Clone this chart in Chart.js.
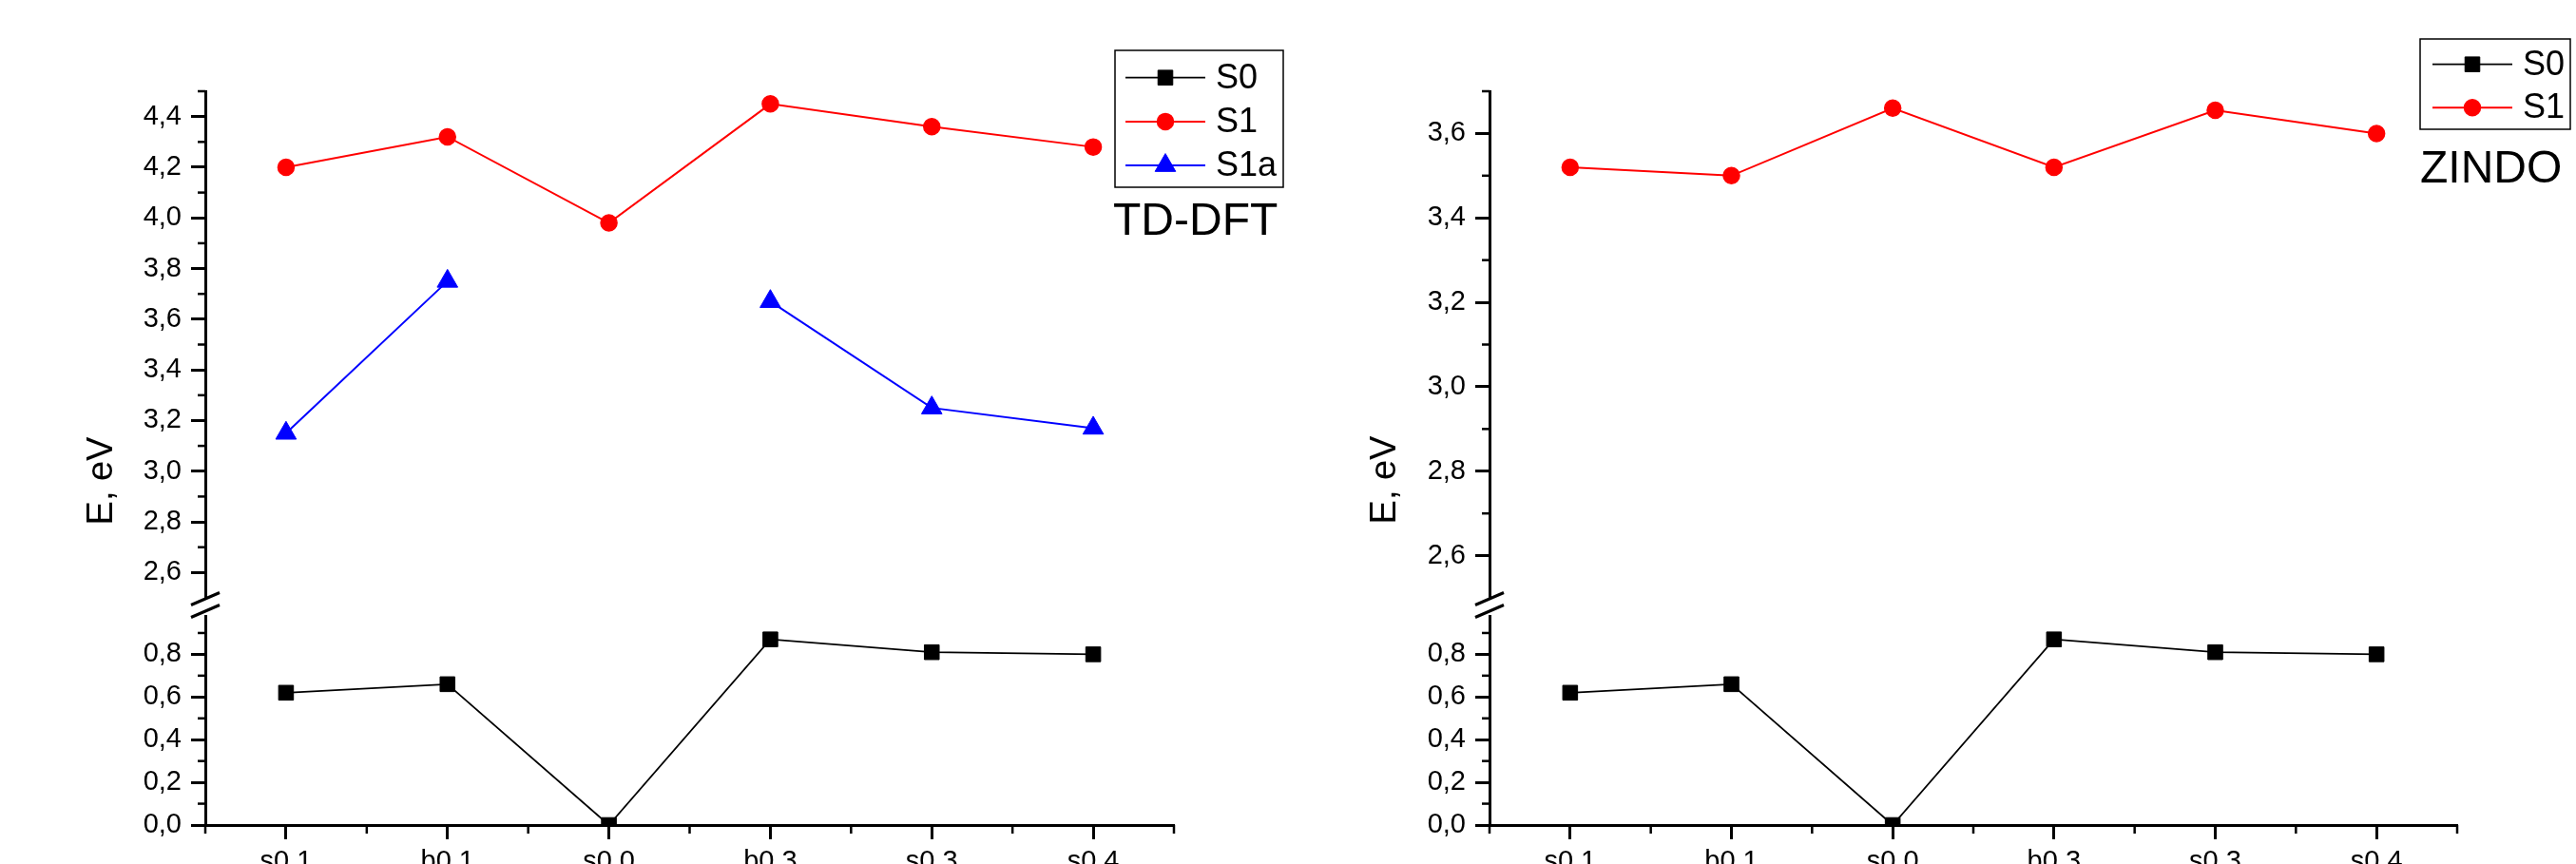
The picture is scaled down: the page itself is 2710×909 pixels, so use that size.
<!DOCTYPE html>
<html>
<head>
<meta charset="utf-8">
<title>TD-DFT / ZINDO</title>
<script src="https://cdn.jsdelivr.net/npm/chart.js@4.4.1/dist/chart.umd.min.js"></script>
<style>
  html, body { margin: 0; padding: 0; background: #fff; }
  #wrap { position: relative; width: 2710px; height: 909px; overflow: hidden; }
  canvas { position: absolute; top: 0; }
  #tddft { left: 0; }
  #zindo { left: 1355px; }
</style>
</head>
<body>
<div id="wrap">
  <canvas id="tddft" width="1355" height="909"></canvas>
  <canvas id="zindo" width="1355" height="909"></canvas>
</div>
<script>
const categories = ["s0.1", "b0.1", "s0.0", "b0.3", "s0.3", "s0.4"];

// TD-DFT panel
const tddftS0 = [0.62, 0.66, 0.0, 0.87, 0.81, 0.80];
const tddftS1 = [4.20, 4.32, 3.98, 4.45, 4.36, 4.28];
const tddftS1a = [3.15, 3.75, null, 3.67, 3.25, 3.17];

// ZINDO panel
const zindoS0 = [0.62, 0.66, 0.0, 0.87, 0.81, 0.80];
const zindoS1 = [3.52, 3.50, 3.66, 3.52, 3.655, 3.60];

const FONT = '"Liberation Sans", Arial, sans-serif';
const yTitle = "E, eV";

const fmtComma = (v) => Number(v).toFixed(1).replace(".", ",");

const s0Set = (data) => ({
  label: "S0", data: data, yAxisID: "yLow",
  borderColor: "#000", backgroundColor: "#000", borderWidth: 1.8,
  pointStyle: "rect", pointRadius: 11, pointBorderWidth: 1
});
const s1Set = (data) => ({
  label: "S1", data: data, yAxisID: "yHigh",
  borderColor: "#ff0000", backgroundColor: "#ff0000", borderWidth: 2,
  pointStyle: "circle", pointRadius: 8.5, pointBorderWidth: 1.5
});
const s1aSet = (data) => ({
  label: "S1a", data: data, yAxisID: "yHigh",
  borderColor: "#0000ff", backgroundColor: "#0000ff", borderWidth: 2,
  pointStyle: "triangle", pointRadius: 12.5, pointBorderWidth: 1
});

// major ticks every 0.2 inside the scale range
const majorTicks = (scale) => {
  const ticks = [];
  for (let k = Math.ceil(scale.min * 5 - 1e-6); k <= Math.floor(scale.max * 5 + 1e-6); k++) {
    ticks.push({ value: k / 5 });
  }
  scale.ticks = ticks;
};

// minor ticks, axis break, y title, boxed legend and method label
const originDecor = {
  id: "originDecor",
  afterDraw(chart, args, opts) {
    const ctx = chart.ctx;
    const x = chart.scales.x;
    const hi = chart.scales.yHigh;
    const lo = chart.scales.yLow;
    const axisX = hi.right;
    ctx.save();
    ctx.strokeStyle = "#000";
    ctx.fillStyle = "#000";

    // y minor ticks every 0.1
    ctx.lineWidth = 2.5;
    [hi, lo].forEach((s) => {
      for (let k = Math.ceil(s.min * 10 + 1e-6); k <= Math.floor(s.max * 10 + 1e-6); k++) {
        if (k % 2 === 0) continue;
        const py = s.getPixelForValue(k / 10);
        ctx.beginPath();
        ctx.moveTo(axisX - 8, py);
        ctx.lineTo(axisX, py);
        ctx.stroke();
      }
    });

    // x minor ticks between categories
    const p0 = x.getPixelForValue(0);
    const step = x.getPixelForValue(1) - p0;
    for (let i = 0; i <= categories.length; i++) {
      const px = p0 + (i - 0.5) * step;
      ctx.beginPath();
      ctx.moveTo(px, x.top);
      ctx.lineTo(px, x.top + 9);
      ctx.stroke();
    }

    // axis break
    ctx.lineWidth = 3;
    [hi.bottom + 1, lo.top - 5].forEach((yy) => {
      ctx.beginPath();
      ctx.moveTo(axisX - 15, yy + 6.5);
      ctx.lineTo(axisX + 15, yy - 6.5);
      ctx.stroke();
    });

    // y title
    ctx.save();
    ctx.translate(opts.titleX, opts.titleY);
    ctx.rotate(-Math.PI / 2);
    ctx.font = "38px " + FONT;
    ctx.textAlign = "center";
    ctx.textBaseline = "middle";
    ctx.fillText(yTitle, 0, 0);
    ctx.restore();

    // legend box
    const lg = opts.legend;
    ctx.lineWidth = 1.5;
    ctx.strokeStyle = "#000";
    ctx.strokeRect(lg.left, lg.top, lg.width, lg.height);
    chart.data.datasets.forEach((ds, i) => {
      const ry = lg.firstRow + i * lg.rowStep;
      ctx.strokeStyle = ds.borderColor;
      ctx.lineWidth = ds.borderWidth;
      ctx.beginPath();
      ctx.moveTo(lg.lineFrom, ry);
      ctx.lineTo(lg.lineTo, ry);
      ctx.stroke();
      ctx.fillStyle = ds.backgroundColor;
      ctx.lineWidth = ds.pointBorderWidth;
      Chart.helpers.drawPoint(ctx, {
        pointStyle: ds.pointStyle, radius: ds.pointRadius,
        rotation: 0, borderWidth: ds.pointBorderWidth
      }, (lg.lineFrom + lg.lineTo) / 2, ry);
      ctx.fillStyle = "#000";
      ctx.font = "36px " + FONT;
      ctx.textAlign = "left";
      ctx.textBaseline = "middle";
      ctx.fillText(ds.label, lg.textX, ry + 1);
    });

    // method name
    ctx.fillStyle = "#000";
    ctx.font = "48px " + FONT;
    ctx.textAlign = "left";
    ctx.textBaseline = "alphabetic";
    ctx.fillText(opts.method.text, opts.method.x, opts.method.y);
    ctx.restore();
  }
};

const buildPanel = (canvasId, cfg) => {
  const fitW = (s) => { s.width = cfg.axisWidth; };
  const yTicks = {
    padding: 10, color: "#000", autoSkip: false,
    font: { family: FONT, size: 29 },
    callback: (v) => fmtComma(v)
  };
  const yGrid = { drawOnChartArea: false, drawTicks: true, tickLength: 15, tickWidth: 3, tickColor: "#000" };
  return new Chart(document.getElementById(canvasId), {
    type: "line",
    data: { labels: categories, datasets: cfg.datasets },
    options: {
      responsive: false,
      animation: false,
      devicePixelRatio: 1,
      layout: { padding: { top: 96, right: cfg.rightPad, left: 0, bottom: 0 } },
      elements: { line: { tension: 0 } },
      plugins: {
        legend: { display: false },
        tooltip: { enabled: false },
        originDecor: cfg.decor
      },
      scales: {
        x: {
          type: "category",
          offset: true,
          afterFit: (s) => { s.height = 41; },
          border: { color: "#000", width: 3 },
          grid: { drawOnChartArea: false, offset: false, tickLength: 15, tickWidth: 3, tickColor: "#000" },
          ticks: { color: "#000", padding: 7, autoSkip: false, maxRotation: 0, font: { family: FONT, size: 29 } }
        },
        yHigh: {
          type: "linear", position: "left", stack: "energy", stackWeight: 533, weight: 3,
          min: cfg.highMin, max: cfg.highMax,
          afterFit: fitW,
          afterBuildTicks: majorTicks,
          border: { color: "#000", width: 3 },
          grid: yGrid,
          ticks: yTicks
        },
        yGap: {
          type: "linear", position: "left", stack: "energy", stackWeight: 19, weight: 2,
          min: 0, max: 1,
          afterFit: fitW,
          border: { display: false },
          grid: { display: false },
          ticks: { display: false }
        },
        yLow: {
          type: "linear", position: "left", stack: "energy", stackWeight: 220, weight: 1,
          min: 0, max: 0.98,
          afterFit: fitW,
          afterBuildTicks: majorTicks,
          border: { color: "#000", width: 3 },
          grid: yGrid,
          ticks: yTicks
        }
      }
    },
    plugins: [originDecor]
  });
};

buildPanel("tddft", {
  axisWidth: 216,
  rightPad: 120,
  highMin: 2.5,
  highMax: 4.5,
  datasets: [s0Set(tddftS0), s1Set(tddftS1), s1aSet(tddftS1a)],
  decor: {
    titleX: 108, titleY: 506,
    legend: { left: 1173, top: 53, width: 177, height: 144, firstRow: 81.7, rowStep: 46.2, lineFrom: 1184, lineTo: 1268, textX: 1279 },
    method: { text: "TD-DFT", x: 1171, y: 247 }
  }
});

buildPanel("zindo", {
  axisWidth: 212,
  rightPad: 125,
  highMin: 2.5,
  highMax: 3.7,
  datasets: [s0Set(zindoS0), s1Set(zindoS1)],
  decor: {
    titleX: 103, titleY: 505,
    legend: { left: 1191, top: 41, width: 158, height: 95, firstRow: 67.7, rowStep: 45.6, lineFrom: 1204, lineTo: 1288, textX: 1299 },
    method: { text: "ZINDO", x: 1191, y: 192 }
  }
});
</script>
</body>
</html>
